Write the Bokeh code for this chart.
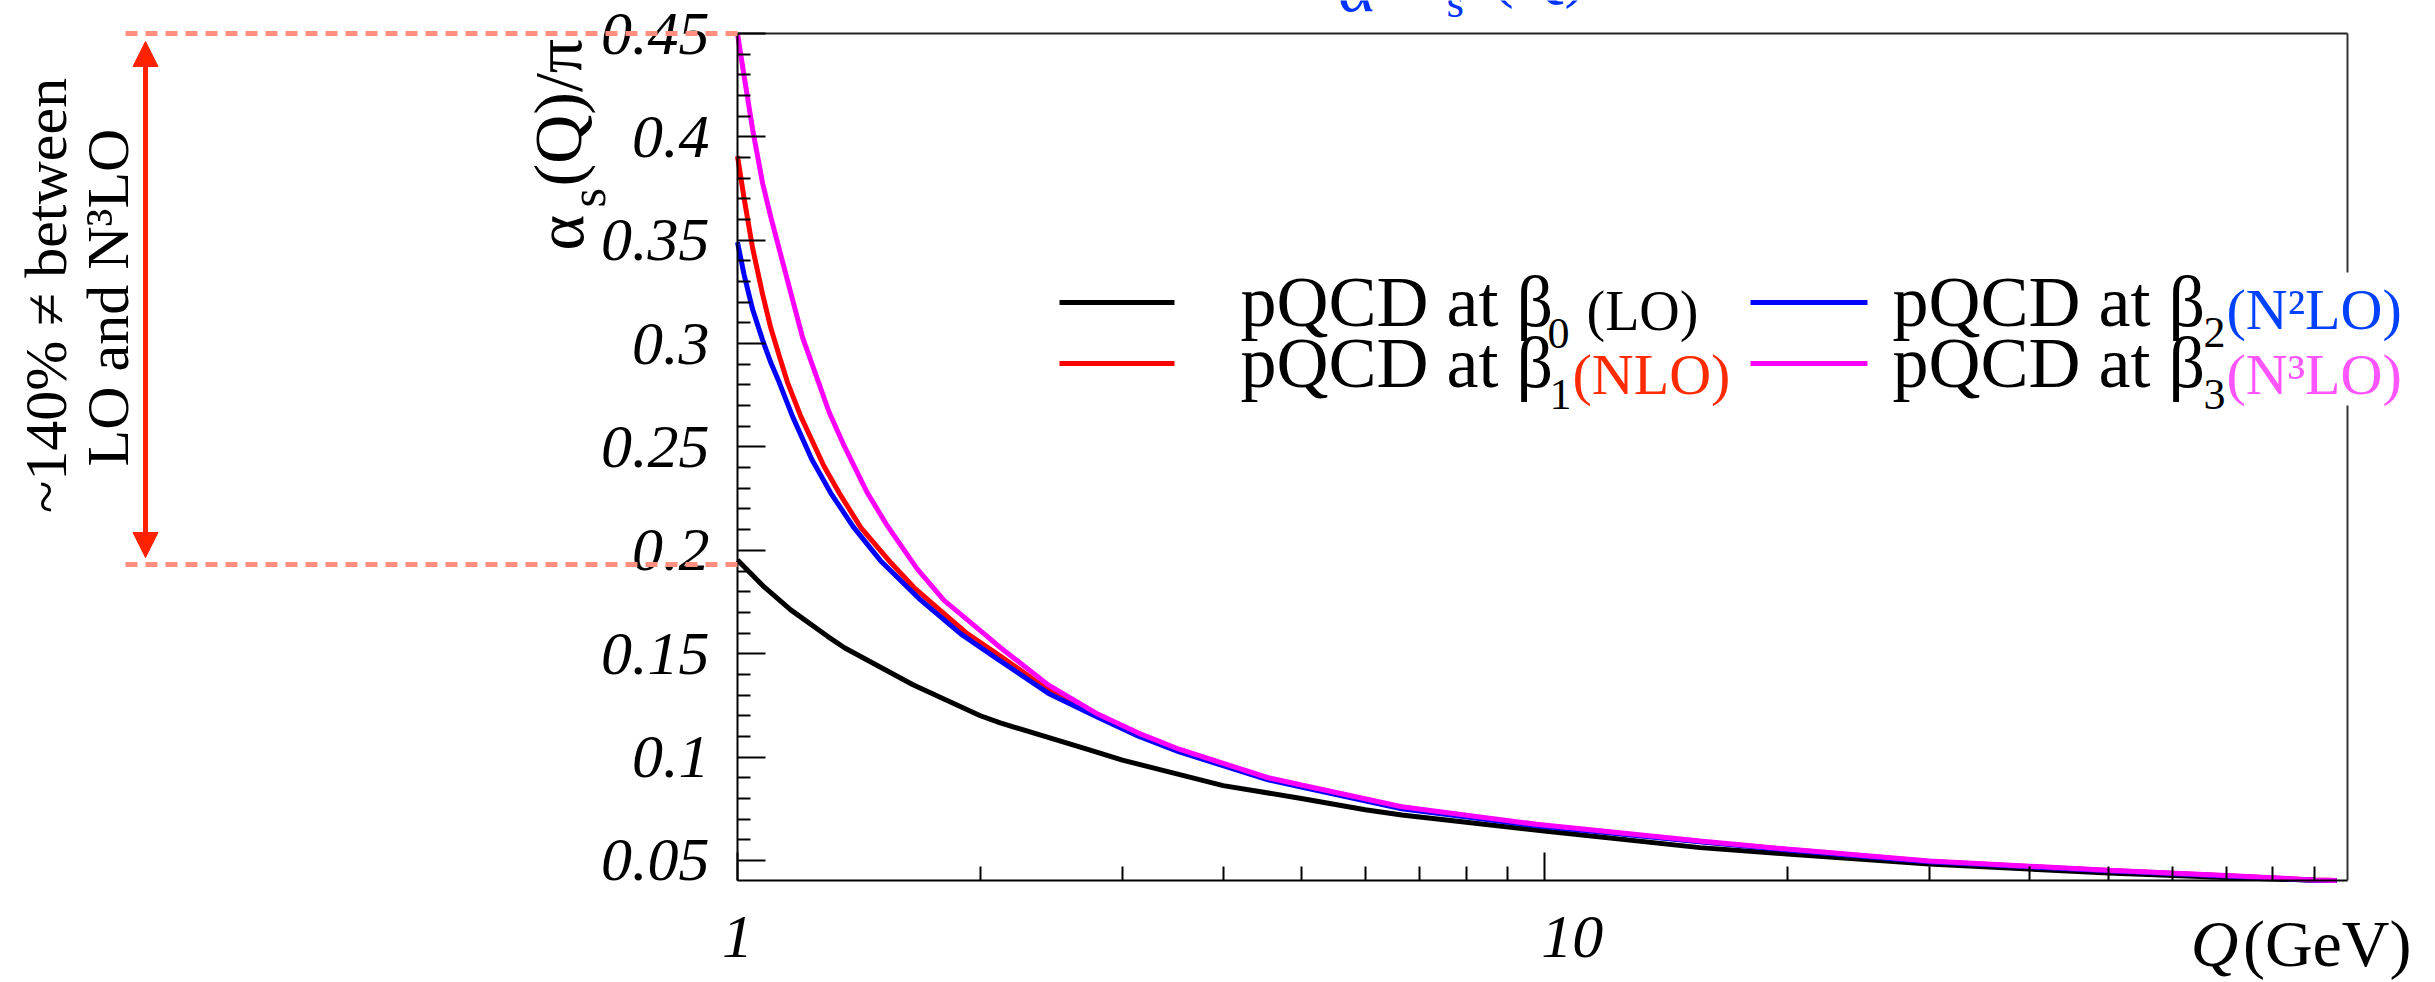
import numpy as np
from bokeh.plotting import figure
from bokeh.models import (Range1d, FixedTicker, Label, Arrow, NormalHead, BoxAnnotation,
                          LinearAxis, LogAxis, ColumnDataSource)
from bokeh.core.properties import value
from bokeh.embed import file_html
from bokeh.resources import INLINE

# ---------------- data ----------------
Q_LO = [1.0, 1.079, 1.164, 1.293, 1.357, 1.65, 2.0, 2.117, 2.73, 3.0, 4.0, 5.0, 6.0, 6.66,
        10.0, 15.6, 20.0, 30.0, 50.0, 70.0, 90.0, 96.0]
A_LO = [0.1953, 0.1823, 0.1712, 0.1584, 0.1529, 0.1350, 0.1200, 0.1165, 0.1035, 0.0985, 0.0862,
        0.0800, 0.0745, 0.0720, 0.0642, 0.0562, 0.0531, 0.0483, 0.0439, 0.0418, 0.0404, 0.0403]

Q_NLO = [1.0, 1.019, 1.044, 1.074, 1.100, 1.126, 1.153, 1.198, 1.280, 1.337, 1.422, 1.541, 1.655,
         1.727, 1.928, 2.117, 2.43, 2.8, 3.14, 3.528, 4.548, 5.0, 6.66, 9.78, 15.6, 20.0, 30.0,
         50.0, 70.0, 90.0, 96.0]
A_NLO = [0.3907, 0.3703, 0.3463, 0.3240, 0.3074, 0.2944, 0.2814, 0.2648, 0.2407, 0.2277, 0.2110,
         0.1950, 0.1820, 0.1757, 0.1596, 0.1489, 0.1323, 0.1197, 0.1107, 0.1030, 0.0895, 0.0860,
         0.0756, 0.0671, 0.0591, 0.0553, 0.0495, 0.0451, 0.0426, 0.0405, 0.0403]

Q_N2LO = [1.0, 1.019, 1.044, 1.074, 1.100, 1.126, 1.170, 1.236, 1.305, 1.391, 1.504, 1.686, 1.891,
          2.117, 2.43, 2.8, 3.14, 3.528, 4.548, 5.0, 6.66, 9.78, 15.6, 20.0, 30.0, 50.0, 70.0,
          90.0, 96.0]
A_N2LO = [0.3490, 0.3333, 0.3166, 0.3018, 0.2907, 0.2814, 0.2648, 0.2441, 0.2277, 0.2115, 0.1950,
          0.1760, 0.1596, 0.1465, 0.1308, 0.1191, 0.1101, 0.1025, 0.0890, 0.0855, 0.0750, 0.0668,
          0.0590, 0.0551, 0.0494, 0.0450, 0.0425, 0.0404, 0.0403]

Q_N3LO = [1.0, 1.017, 1.044, 1.074, 1.100, 1.132, 1.204, 1.221, 1.299, 1.356, 1.449, 1.534, 1.670,
          1.803, 2.022, 2.117, 2.43, 2.8, 3.14, 3.528, 4.548, 5.0, 6.66, 9.78, 15.6, 20.0, 30.0,
          50.0, 70.0, 90.0, 96.0]
A_N3LO = [0.4500, 0.4315, 0.4037, 0.3778, 0.3611, 0.3426, 0.3030, 0.2964, 0.2668, 0.2505, 0.2277,
          0.2118, 0.1910, 0.1758, 0.1596, 0.1530, 0.1348, 0.1207, 0.1116, 0.1038, 0.0900, 0.0865,
          0.0760, 0.0675, 0.0594, 0.0555, 0.0497, 0.0453, 0.0427, 0.0406, 0.0403]

Y_TICKS = [0.05, 0.1, 0.15, 0.2, 0.25, 0.3, 0.35, 0.4, 0.45]
Y_TICK_LABELS = ["0.05", "0.1", "0.15", "0.2", "0.25", "0.3", "0.35", "0.4", "0.45"]
Y_MINOR = [0.06, 0.07, 0.08, 0.09, 0.11, 0.12, 0.13, 0.14, 0.16, 0.17, 0.18, 0.19,
           0.21, 0.22, 0.23, 0.24, 0.26, 0.27, 0.28, 0.29, 0.31, 0.32, 0.33, 0.34,
           0.36, 0.37, 0.38, 0.39, 0.41, 0.42, 0.43, 0.44]
X_TICKS = [1, 10]
X_TICK_LABELS = ["1", "10"]
X_MINOR = [2, 3, 4, 5, 6, 7, 8, 9, 20, 30, 40, 50, 60, 70, 80, 90]

LO_DIFF_TEXT = ["~140% \u2260 between", "LO and N\u00b3LO"]

# ---------------- layout constants (page pixels; the page has no margin) ----------------
CW, CH = 2435, 982
FL, FT, FW, FH = 737, 33, 1610, 847      # the drawn plot box
X0, X1 = 1.0, 99.0
Y0, Y1 = 0.0403, 0.45
SERIF = "Liberation Serif"
MID = 0.3375                               # baseline -> middle of em box, in em

K = FW / np.log10(X1 / X0)      # px per decade
KY = FH / (Y1 - Y0)             # px per unit
XS = X0 * 10 ** ((0 - FL) / K)
XE = X0 * 10 ** ((CW - FL) / K)
YT = Y1 + FT / KY
YB = Y1 - (CH - FT) / KY

p = figure(width=CW, height=CH, x_axis_type="log",
           x_range=Range1d(XS, XE), y_range=Range1d(YB, YT),
           x_axis_location=None, y_axis_location=None,
           output_backend="svg", toolbar_location=None, title=None,
           min_border=0, min_border_left=0, min_border_right=0,
           min_border_top=0, min_border_bottom=0,
           background_fill_color="white", border_fill_color="white")
p.xgrid.visible = False
p.ygrid.visible = False
p.outline_line_color = None


def dx(px):
    return X0 * 10 ** ((px - FL) / K)


def dy(py):
    return Y1 - (py - FT) / KY


def lab(text, px, py, size, color="black", align="left", angle=0.0, style="normal"):
    """px, py: position of the text baseline (page px); rotated texts read upwards."""
    if angle:
        px = px - MID * size
    else:
        py = py - MID * size
    p.add_layout(Label(x=dx(px), y=dy(py), text=text, text_font=SERIF,
                       text_font_size=f"{size}px", text_color=color, text_align=align,
                       text_baseline="middle", angle=angle, text_font_style=style))


def plain_axis(cls, loc, bounds, ticker, **kw):
    return cls(fixed_location=loc, bounds=bounds, ticker=ticker,
               major_label_text_font_size="1px", major_label_text_alpha=0.0,
               major_label_standoff=0, axis_label=None, axis_line_width=2,
               major_tick_out=0, minor_tick_out=0,
               major_tick_line_width=2, minor_tick_line_width=2, **kw)


# axes drawn by Bokeh at fixed data positions
p.add_layout(plain_axis(LinearAxis, X0, (Y0, Y1), FixedTicker(ticks=Y_TICKS, minor_ticks=Y_MINOR),
                        major_tick_in=28, minor_tick_in=13), "left")
p.add_layout(plain_axis(LogAxis, Y0, (X0, X1), FixedTicker(ticks=X_TICKS, minor_ticks=X_MINOR),
                        major_tick_in=28, minor_tick_in=14), "below")
p.add_layout(plain_axis(LogAxis, Y1, (X0, X1), FixedTicker(ticks=[1000]), major_tick_in=0,
                        minor_tick_in=0, axis_line_color="#222222"), "above")
p.add_layout(plain_axis(LinearAxis, X1, (Y0, Y1), FixedTicker(ticks=[5.0]), major_tick_in=0,
                        minor_tick_in=0, axis_line_color="#333333"), "right")

# tick labels
ysrc = ColumnDataSource(dict(x=[dx(709)] * len(Y_TICKS), y=Y_TICKS, t=Y_TICK_LABELS))
p.text(x="x", y="y", text="t", source=ysrc, text_font=value(SERIF), text_font_style="italic",
       text_font_size="62px", text_align="right", text_baseline="middle", text_color="black")
xsrc = ColumnDataSource(dict(x=X_TICKS, y=[dy(957 - MID * 62)] * 2, t=X_TICK_LABELS,
                             xo=[0, 28]))
p.text(x="x", y="y", text="t", x_offset="xo", source=xsrc, text_font=value(SERIF),
       text_font_style="italic", text_font_size="62px", text_align="center",
       text_baseline="middle", text_color="black")

# curves
p.line(Q_LO, A_LO, line_color="#000000", line_width=5)
p.line(Q_NLO, A_NLO, line_color="#ff0000", line_width=5)
p.line(Q_N2LO, A_N2LO, line_color="#0000ff", line_width=5)
p.line(Q_N3LO, A_N3LO, line_color="#ff00ff", line_width=5)

# legend (manual)
p.add_layout(BoxAnnotation(left=dx(1040), right=dx(2420), top=dy(272), bottom=dy(405),
                           fill_color="white", fill_alpha=1.0, line_color=None))
for (x1, x2, yy, c) in [(1059, 1174, 302, "#000000"), (1059, 1174, 363, "#ff0000"),
                        (1750, 1867, 302, "#0000ff"), (1750, 1867, 363, "#ff00ff")]:
    p.add_layout(Arrow(end=None, x_start=dx(x1), y_start=dy(yy), x_end=dx(x2), y_end=dy(yy),
                       line_color=c, line_width=5))

lab("pQCD at \u03b2", 1240, 326, 72)
lab("0", 1547, 348, 44)
lab("(LO)", 1586, 329, 56)
lab("pQCD at \u03b2", 1240, 387, 72)
lab("1", 1549, 409, 44)
lab("(NLO)", 1572, 394, 58, color="#ff2a00")
lab("pQCD at \u03b2", 1892, 326, 72)
lab("2", 2203, 347, 44)
lab("(N\u00b2LO)", 2226, 329, 58, color="#0040ff")
lab("pQCD at \u03b2", 1892, 387, 72)
lab("3", 2203, 409, 44)
lab("(N\u00b3LO)", 2226, 394, 58, color="#ff55ff")

# axis titles
lab("\u03b1", 582, 250, 68, angle=np.pi / 2)
lab("s", 604, 207, 50, angle=np.pi / 2)
lab("(Q)/\u03c0", 580, 186, 68, angle=np.pi / 2)
lab("(GeV)", 2411, 965, 66, align="right")
lab("Q", 2238, 965, 66, align="right", style="italic")

# cut-off blue title at the very top
lab("\u03b1", 1337, 11, 70, color="#0033ff")
lab("s", 1446, 17, 45, color="#0033ff")
lab("(Q)", 1490, -6, 70, color="#0033ff")

# left annotation: dotted guide lines, double arrow, rotated text
SALMON = "#ff8f80"
for yy in [33, 564]:
    p.add_layout(Arrow(end=None, x_start=dx(125), y_start=dy(yy), x_end=dx(737), y_end=dy(yy),
                       line_color=SALMON, line_width=5, line_dash="12 8"))
RED = "#ff2200"
p.add_layout(Arrow(start=NormalHead(size=25, fill_color=RED, line_color=RED),
                   end=NormalHead(size=25, fill_color=RED, line_color=RED),
                   x_start=dx(145), y_start=dy(557), x_end=dx(145), y_end=dy(41),
                   line_color=RED, line_width=5))
lab(LO_DIFF_TEXT[0], 66, 295, 60, align="center", angle=np.pi / 2)
lab(LO_DIFF_TEXT[1], 128, 297, 60, align="center", angle=np.pi / 2)

open("out.html", "w").write(file_html(p, INLINE))
